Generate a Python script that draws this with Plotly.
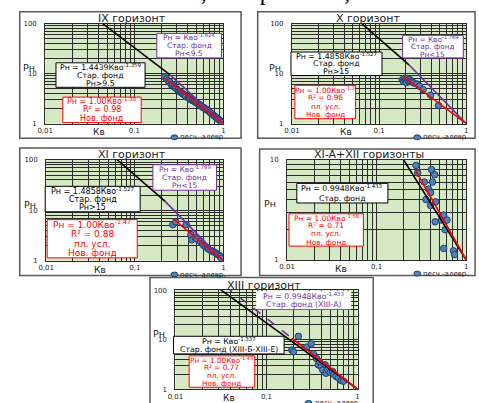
import plotly.graph_objects as go

W, H = 479, 403

# ---------------- data ----------------
# IX горизонт
ix_kv = [0.22, 0.23, 0.24, 0.25, 0.26, 0.27, 0.28, 0.29, 0.30, 0.31,
         0.32, 0.33, 0.34, 0.35, 0.36, 0.37, 0.38, 0.40, 0.41, 0.42,
         0.43, 0.45, 0.46, 0.47, 0.49, 0.50, 0.52, 0.54, 0.55, 0.57,
         0.59, 0.60, 0.62, 0.64, 0.66, 0.68, 0.70, 0.72, 0.75, 0.78,
         0.80, 0.83, 0.86, 0.89, 0.92, 0.95, 0.97]
ix_pn = [8.6, 7.8, 7.2, 6.8, 6.0, 5.9, 5.4, 5.2, 4.9, 4.6,
         4.4, 4.3, 4.1, 3.9, 3.8, 3.7, 3.5, 3.3, 3.25, 3.2,
         3.0, 2.9, 2.85, 2.8, 2.65, 2.6, 2.5, 2.4, 2.3, 2.2,
         2.1, 2.1, 2.0, 1.95, 1.85, 1.8, 1.7, 1.62, 1.55, 1.45,
         1.4, 1.33, 1.26, 1.2, 1.14, 1.08, 1.04]

# X горизонт
x_kv = [0.185, 0.19, 0.195, 0.20, 0.205, 0.21, 0.215, 0.22, 0.225, 0.23,
        0.24, 0.25, 0.27, 0.29, 0.32, 0.39, 0.48]
x_pn = [7.5, 7.0, 8.0, 7.2, 6.6, 8.0, 7.4, 6.9, 7.6, 7.0,
        6.8, 6.5, 6.2, 5.6, 4.8, 3.7, 2.3]

# XI горизонт
xi_kv = [0.268, 0.29, 0.38, 0.43, 0.44, 0.48, 0.50, 0.55, 0.58, 0.60, 0.63,
         0.66, 0.68, 0.72, 0.75, 0.78, 0.81, 0.84, 0.87, 0.90, 0.92, 0.95]
xi_pn = [5.2, 5.9, 5.2, 3.3, 2.6, 2.9, 2.7, 2.4, 2.2, 2.0, 1.9,
         1.8, 1.7, 1.6, 1.55, 1.5, 1.45, 1.38, 1.32, 1.28, 1.22, 1.12]

# XI-A+XII горизонты
xii_kv = [0.275, 0.287, 0.41, 0.445, 0.42, 0.34, 0.38, 0.355, 0.40, 0.455,
          0.40, 0.45, 0.53, 0.56, 0.58, 0.61, 0.56, 0.72, 0.74]
xii_pn = [8.8, 7.4, 8.0, 7.1, 6.0, 6.0, 5.1, 4.0, 3.5, 3.8,
          4.7, 2.4, 2.5, 2.8, 2.0, 2.5, 1.3, 1.23, 1.13]

# XIII горизонт
xiii_kv = [0.19, 0.198, 0.224, 0.276, 0.31, 0.326, 0.353, 0.37, 0.384, 0.40, 0.415,
           0.44, 0.45, 0.47, 0.50, 0.53, 0.55, 0.58, 0.62, 0.66, 0.70]
xiii_pn = [6.2, 5.7, 11.7, 7.1, 8.3, 5.2, 4.2, 3.1, 3.6, 2.85, 2.45,
           3.1, 2.1, 2.45, 2.2, 2.3, 2.0, 1.8, 1.7, 1.5, 1.45]

# power-law fits Рн = a * Кво^b : (a, b, Кво from, Кво to)
ix_fits = [(1.4439, -1.359, 0.04, 0.25), (1.0, -1.624, 0.25, 1.0), (1.00, -1.38, 0.22, 1.0)]
x_fits = [(1.4858, -1.527, 0.05, 0.22), (1.0, -1.789, 0.22, 1.0), (1.00, -1.3, 0.19, 1.0)]
xi_fits = [(1.4858, -1.527, 0.05, 0.22), (1.0, -1.789, 0.22, 1.0), (1.00, -1.47, 0.27, 1.0)]
xii_fits = [(0.9948, -1.433, 0.15, 1.0), (1.00, -1.58, 0.27, 1.0)]
xiii_fits = [(1.0, -1.337, 0.025, 1.0), (0.9948, -1.433, 0.035, 1.0), (1.00, -1.43, 0.19, 1.0)]

titles = ["IX горизонт", "X горизонт", "XI горизонт", "XI-A+XII горизонты", "XIII горизонт"]

# ---------------- styling ----------------
BLACK, PURPLE, RED = "#000000", "#7030a0", "#ff0000"
FONT = "DejaVu Sans"
GREEN = "#d4e9c4"
GRID = "#2b2b2b"


def fx(p):
    return p / W


def fy(p):
    return 1 - p / H


# panel geometry: frame box, plot box, log y range
panels = [
    dict(frame=(12, 8, 238, 137), plot=(38, 20, 220, 122), yr=(0, 2)),
    dict(frame=(255, 8, 477, 137), plot=(290, 20, 468, 122), yr=(0, 2)),
    dict(frame=(12, 147, 238, 277), plot=(39, 159, 220, 262), yr=(0, 2)),
    dict(frame=(257, 148, 477, 277), plot=(285, 159, 468, 261), yr=(0, 1)),
    dict(frame=(145, 279, 373, 420), plot=(171, 292, 357, 393), yr=(0, 2)),
]

series = [(ix_kv, ix_pn, ix_fits), (x_kv, x_pn, x_fits), (xi_kv, xi_pn, xi_fits),
          (xii_kv, xii_pn, xii_fits), (xiii_kv, xiii_pn, xiii_fits)]
fit_styles = [
    [(BLACK, "solid"), (PURPLE, "solid"), (RED, "solid")],
    [(BLACK, "solid"), (PURPLE, "solid"), (RED, "solid")],
    [(BLACK, "solid"), (PURPLE, "solid"), (RED, "solid")],
    [(BLACK, "solid"), (RED, "solid")],
    [(BLACK, "solid"), (PURPLE, "dash"), (RED, "solid")],
]


def decade_ticks(lo, hi):
    vals, text = [], []
    for d in range(lo, hi):
        for m in range(1, 10):
            vals.append(m * 10 ** d)
            text.append("")
    vals.append(10 ** hi)
    text.append("")
    return vals, text


fig = go.Figure()
shapes, annotations = [], []
layout = {}

xvals, xtext = decade_ticks(-2, 0)
for v_i, v in enumerate(xvals):
    if abs(v - 0.01) < 1e-9:
        xtext[v_i] = "0,01"
    elif abs(v - 0.1) < 1e-9:
        xtext[v_i] = "0,1"
    elif abs(v - 1) < 1e-9:
        xtext[v_i] = "1"

for i, (pan, (kv, pn, fits), styles, title) in enumerate(zip(panels, series, fit_styles, titles)):
    n = "" if i == 0 else str(i + 1)
    l, t, r, b = pan["plot"]
    y0, y1 = pan["yr"]
    yvals, ytext = decade_ticks(y0, y1)
    for v_i, v in enumerate(yvals):
        if abs(v - round(v)) < 1e-9 and round(v) in (1, 10, 100):
            ytext[v_i] = str(int(round(v)))
    axis_common = dict(type="log", showgrid=True, gridcolor=GRID, gridwidth=1,
                       showline=True, linecolor=GRID, linewidth=1, mirror=True,
                       ticks="", zeroline=False,
                       tickfont=dict(family=FONT, size=7, color="#222"))
    layout["xaxis" + n] = dict(axis_common, domain=[fx(l), fx(r)], range=[-2, 0],
                               tickvals=xvals, ticktext=xtext, tickangle=0,
                               anchor="y" + n)
    layout["yaxis" + n] = dict(axis_common, domain=[fy(b), fy(t)], range=[y0, y1],
                               tickvals=yvals, ticktext=ytext, ticklabelstandoff=6,
                               anchor="x" + n)

    fig.add_trace(go.Scatter(x=kv, y=pn, mode="markers", xaxis="x" + n, yaxis="y" + n,
                             marker=dict(size=6.5, color="#4f81bd",
                                         line=dict(color="#1f3d6b", width=1)),
                             showlegend=False, hoverinfo="skip"))
    for (a, bexp, k0, k1), (col, dash) in zip(fits, styles):
        ks = [k0, k1]
        fig.add_trace(go.Scatter(x=ks, y=[a * k ** bexp for k in ks], mode="lines",
                                 xaxis="x" + n, yaxis="y" + n,
                                 line=dict(color=col, width=1.6, dash=dash),
                                 showlegend=False, hoverinfo="skip"))

    fl, ft, fr, fb = pan["frame"]
    shapes.append(dict(type="rect", xref="paper", yref="paper",
                       x0=fx(fl), x1=fx(fr), y0=fy(fb), y1=fy(ft),
                       line=dict(color="#5a5a5a", width=1.5), fillcolor="rgba(0,0,0,0)",
                       layer="below"))
    # chart title
    annotations.append(dict(xref="paper", yref="paper", x=fx((fl + fr) / 2 + 2), y=fy(t - 5),
                            text=title, showarrow=False, xanchor="center", yanchor="middle",
                            font=dict(family=FONT, size=11, color="#222")))
    # axis titles
    annotations.append(dict(xref="paper", yref="paper", x=fx(l - 17), y=fy((t + b) / 2 - 6),
                            text="Рн", showarrow=False, xanchor="center", yanchor="middle",
                            font=dict(family=FONT, size=9.5, color="#222")))
    annotations.append(dict(xref="paper", yref="paper", x=fx(l + 55), y=fy(b + 9),
                            text="Кв", showarrow=False, xanchor="center", yanchor="middle",
                            font=dict(family=FONT, size=9, color="#222")))
    # legend marker + label
    lx, ly = r - 50, b + 14
    shapes.append(dict(type="circle", xref="paper", yref="paper",
                       x0=fx(lx - 3.5), x1=fx(lx + 3.5), y0=fy(ly + 2.5), y1=fy(ly - 2.5),
                       fillcolor="#4f81bd", line=dict(color="#1f3d6b", width=1)))
    annotations.append(dict(xref="paper", yref="paper", x=fx(lx + 4), y=fy(ly),
                            text="песч.-алевр.", showarrow=False, xanchor="left",
                            yanchor="middle", font=dict(family=FONT, size=7, color="#222")))

# equation boxes: lines, text colour, box (x0, y0, x1, y1) in px, font size, border colour
boxes = [
    (["Рн = Кво<sup>-1.624</sup>", "Стар. фонд", "Рн&lt;9.5"], PURPLE, (152, 30, 218, 55), 7.5, PURPLE),
    (["Рн = 1.4439Кво<sup>-1.359</sup>", "Стар. фонд", "Рн&gt;9.5"], BLACK, (49, 60, 140, 85), 7.8, BLACK),
    (["Рн = 1.00Кво<sup>-1.38</sup>", "R² = 0.98", "Нов. фонд"], RED, (56, 95, 136, 121), 8, RED),
    (["Рн = Кво<sup>-1.789</sup>", "Стар. фонд", "Рн&lt;15"], PURPLE, (403, 32, 465, 55), 7.3, PURPLE),
    (["Рн = 1.4858Кво<sup>-1.527</sup>", "Стар. фонд", "Рн&gt;15"], BLACK, (289, 49, 382, 73), 7.8, BLACK),
    (["Рн = 1.00Кво<sup>-1.3</sup>", "R² = 0.96", "пл. усл.", "Нов. фонд"], RED, (293, 83, 355, 117), 7.3, RED),
    (["Рн = Кво<sup>-1.789</sup>", "Стар. фонд", "Рн&lt;15"], PURPLE, (148, 164, 213, 190), 7.5, PURPLE),
    (["Рн = 1.4858Кво<sup>-1.527</sup>", "Стар. фонд", "Рн&gt;15"], BLACK, (38, 186, 135, 212), 8, BLACK),
    (["Рн = 1.00Кво<sup>-1.47</sup>", "R² = 0.88", "пл. усл.", "Нов. фонд"], RED, (40, 220, 132, 259), 9, RED),
    (["Рн = 0.9948Кво<sup>-1.433</sup>", "Стар. фонд"], BLACK, (295, 183, 388, 203), 7.8, BLACK),
    (["Рн = 1.00Кво<sup>-1.58</sup>", "R² = 0.71", "пл. усл.", "Нов. фонд"], RED, (287, 214, 363, 247), 7.5, RED),
    (["Рн = 0.9948Кво<sup>-1.433</sup>", "Стар. фонд (XIII-А)"], PURPLE, (254, 293, 350, 311), 7.8, "#ffffff"),
    (["Рн = Кво<sup>-1.337</sup>", "Стар. фонд (XIII-Б-XIII-Е)"], BLACK, (169, 339, 282, 357), 7.8, BLACK),
    (["Рн = 1.00Кво<sup>-1.43</sup>", "R² = 0.77", "пл. усл.", "Нов. фонд"], RED, (185, 359, 252, 391), 7.3, RED),
]
for lines, col, (bx0, by0, bx1, by1), fs, bcol in boxes:
    shapes.append(dict(type="rect", xref="paper", yref="paper",
                       x0=fx(bx0), x1=fx(bx1), y0=fy(by1), y1=fy(by0),
                       fillcolor="#ffffff", line=dict(color=bcol, width=1), layer="above"))
    pitch = (by1 - by0) / len(lines)
    for k, line in enumerate(lines):
        annotations.append(dict(xref="paper", yref="paper", x=fx((bx0 + bx1) / 2),
                                y=fy(by0 + (k + 0.5) * pitch), text=line, showarrow=False,
                                xanchor="center", yanchor="middle",
                                font=dict(family=FONT, size=fs, color=col)))

# source line above the panels
annotations.append(dict(xref="paper", yref="paper", x=fx(240), y=fy(-12),
                        text="Хисамов Р.С., Закиров Б.И., 2023 г", showarrow=False,
                        xanchor="center", yanchor="middle",
                        font=dict(family="Liberation Serif", size=24, color="#000")))

fig.update_layout(width=W, height=H, autosize=False,
                  margin=dict(l=0, r=0, t=0, b=0),
                  paper_bgcolor="#ffffff", plot_bgcolor=GREEN,
                  shapes=shapes, annotations=annotations, showlegend=False,
                  **layout)

fig.write_html("out.html")
